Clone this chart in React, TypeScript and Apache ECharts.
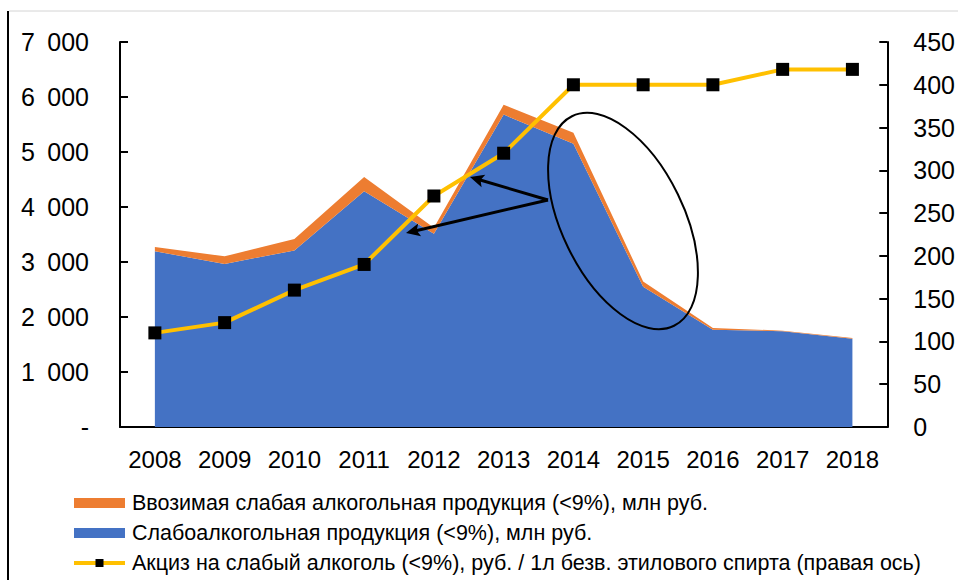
import React, { useEffect, useRef } from "react";
import * as echarts from "echarts";

const years = ["2008", "2009", "2010", "2011", "2012", "2013", "2014", "2015", "2016", "2017", "2018"];
const domestic = [3195, 2965, 3210, 4285, 3515, 5680, 5150, 2550, 1770, 1740, 1605];
const imported = [80, 138, 207, 261, 109, 180, 200, 96, 30, 12, 12];
const excise = [110, 122, 160, 190, 270, 320, 400, 400, 400, 418, 418];

const nameImported = "Ввозимая слабая алкогольная продукция (<9%), млн руб.";
const nameDomestic = "Слабоалкогольная продукция (<9%), млн руб.";
const nameExcise = "Акциз на слабый алкоголь (<9%), руб. / 1л безв. этилового спирта (правая ось)";

const FONT = "Liberation Sans, Arial, sans-serif";

function arrow(x1: number, y1: number, x2: number, y2: number) {
  const dx = x2 - x1;
  const dy = y2 - y1;
  const len = Math.sqrt(dx * dx + dy * dy);
  const ux = dx / len;
  const uy = dy / len;
  const hl = 14;
  const hw = 6.5;
  const bx = x2 - ux * hl;
  const by = y2 - uy * hl;
  return [
    {
      type: "line",
      shape: { x1, y1, x2: x2 - ux * 8, y2: y2 - uy * 8 },
      style: { stroke: "#000", lineWidth: 3 },
      z: 100,
    },
    {
      type: "polygon",
      shape: {
        points: [
          [x2, y2],
          [bx - uy * hw, by + ux * hw],
          [bx + ux * 3, by + uy * 3],
          [bx + uy * hw, by - ux * hw],
        ],
      },
      style: { fill: "#000" },
      z: 100,
    },
  ];
}

export default function App() {
  const ref = useRef<HTMLDivElement>(null);
  useEffect(() => {
    if (!ref.current) return;
    const chart = echarts.init(ref.current, null, { renderer: "svg" });
    const fmt = (v: number) => (v === 0 ? "-" : String(v).replace(/\B(?=(\d{3})+(?!\d))/g, "\u2002"));
    chart.setOption({
      animation: false,
      backgroundColor: "#fff",
      textStyle: { fontFamily: FONT, color: "#000" },
      grid: { left: 120, right: 69, top: 42, bottom: 153 },
      legend: {
        orient: "vertical",
        left: 72,
        top: 492,
        padding: 0,
        itemWidth: 51,
        itemHeight: 10,
        itemGap: 8,
        data: [
          { name: nameImported, icon: "rect" },
          { name: nameDomestic, icon: "rect" },
          { name: nameExcise, lineStyle: { width: 4, color: "#FFC000" } },
        ],
        textStyle: { fontFamily: FONT, fontSize: 21.5, color: "#000", lineHeight: 21, padding: [0, 0, 0, 2] },
      },
      xAxis: {
        type: "category",
        data: years,
        boundaryGap: true,
        axisLine: { lineStyle: { color: "#000", width: 2 } },
        axisTick: { inside: true, length: 8, lineStyle: { color: "#000", width: 2 } },
        axisLabel: { fontFamily: FONT, fontSize: 24, color: "#000", margin: 20 },
        splitLine: { show: false },
      },
      yAxis: [
        {
          type: "value",
          min: 0,
          max: 7000,
          interval: 1000,
          axisLine: { show: true, lineStyle: { color: "#000", width: 2 } },
          axisTick: { show: true, inside: true, length: 8, lineStyle: { color: "#000", width: 2 } },
          axisLabel: { fontFamily: FONT, fontSize: 25, color: "#000", margin: 31, formatter: fmt },
          splitLine: { show: false },
        },
        {
          type: "value",
          min: 0,
          max: 450,
          interval: 50,
          position: "right",
          axisLine: { show: true, lineStyle: { color: "#000", width: 2 } },
          axisTick: { show: true, inside: true, length: 8, lineStyle: { color: "#000", width: 2 } },
          axisLabel: { fontFamily: FONT, fontSize: 25, color: "#000", margin: 26 },
          splitLine: { show: false },
        },
      ],
      series: [
        {
          name: nameDomestic,
          type: "line",
          stack: "total",
          data: domestic,
          symbol: "none",
          lineStyle: { width: 0 },
          itemStyle: { color: "#4472C4" },
          areaStyle: { color: "#4472C4", opacity: 1 },
          z: 1,
        },
        {
          name: nameImported,
          type: "line",
          stack: "total",
          data: imported,
          symbol: "none",
          lineStyle: { width: 0 },
          itemStyle: { color: "#ED7D31" },
          areaStyle: { color: "#ED7D31", opacity: 1 },
          z: 1,
        },
        {
          name: nameExcise,
          type: "line",
          yAxisIndex: 1,
          data: excise,
          symbol: "rect",
          symbolSize: 13,
          lineStyle: { color: "#FFC000", width: 4 },
          itemStyle: { color: "#000", borderWidth: 0 },
          z: 5,
        },
      ],
      graphic: [
        { type: "line", shape: { x1: 9, y1: 11, x2: 958, y2: 11 }, style: { stroke: "#d4d4d4", lineWidth: 1 } },
        { type: "line", shape: { x1: 8, y1: 11, x2: 8, y2: 580 }, style: { stroke: "#000", lineWidth: 2 } },
        {
          type: "ellipse",
          x: 623,
          y: 221,
          rotation: (26 * Math.PI) / 180,
          shape: { cx: 0, cy: 0, rx: 61, ry: 116.5 },
          style: { fill: "none", stroke: "#000", lineWidth: 2 },
          z: 100,
        },
        ...arrow(548, 200, 470, 177),
        ...arrow(548, 200, 406, 233),
      ],
    });
    return () => chart.dispose();
  }, []);
  return <div ref={ref} style={{ position: "fixed", left: 0, top: 0, width: 958, height: 580 }} />;
}
